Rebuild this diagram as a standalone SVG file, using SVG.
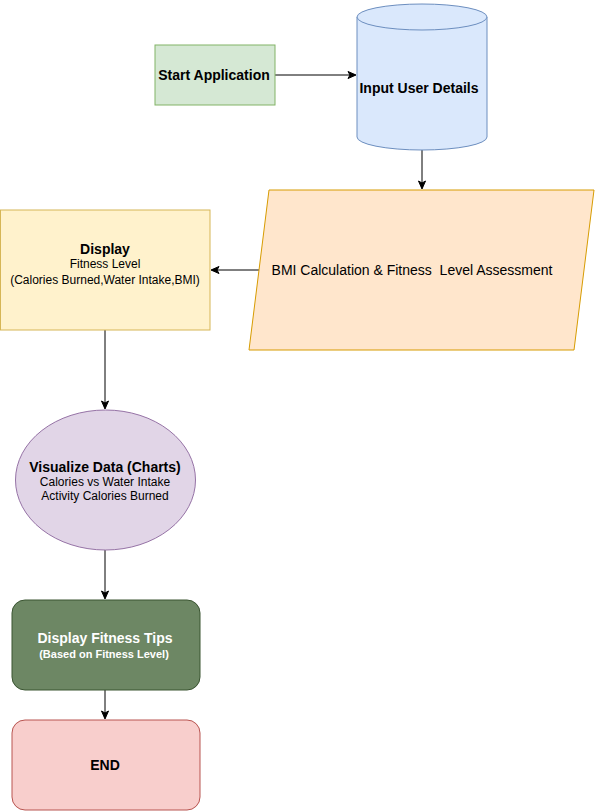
<svg xmlns="http://www.w3.org/2000/svg" width="595" height="811" viewBox="0 0 595 811">
<style>
text{font-family:Helvetica,"Liberation Sans",Arial,sans-serif;fill:#000;text-anchor:middle}
.b{font-weight:bold;font-size:14px}
.s{font-size:12px}
.c{stroke:#000;stroke-width:1;fill:none;marker-end:url(#ah)}
</style>
<defs>
<marker id="ah" markerWidth="10" markerHeight="10" refX="8" refY="5" orient="auto" markerUnits="userSpaceOnUse">
<path d="M1,1.5 L9,5 L1,8.5 L3,5 Z" fill="#000" stroke="#000" stroke-width="1"/>
</marker>
</defs>
<g id="connectors">
<path class="c" d="M275,75 L355,75"/>
<path class="c" d="M422,150 L422,188"/>
<path class="c" d="M259,270 L212,270"/>
<path class="c" d="M105,330 L105,408"/>
<path class="c" d="M105,550 L105,598"/>
<path class="c" d="M105,690 L105,718"/>
</g>
<g id="start">
<rect x="155" y="45" width="120" height="60" fill="#d5e8d4" stroke="#82b366"/>
<text class="b" x="214" y="80">Start Application</text>
</g>
<g id="input">
<path d="M357,17 L357,137 A65,13 0 0 0 487,137 L487,17" fill="#dae8fc" stroke="#6c8ebf"/>
<ellipse cx="422" cy="17" rx="65" ry="13" fill="#dae8fc" stroke="#6c8ebf"/>
<text class="b" x="419" y="93">Input User Details</text>
</g>
<g id="bmi">
<polygon points="269,190 594,190 574,350 249,350" fill="#ffe6cc" stroke="#d79b00"/>
<text x="412" y="275" style="font-size:14px;white-space:pre" xml:space="preserve">BMI Calculation &amp; Fitness  Level Assessment</text>
</g>
<g id="display">
<rect x="0.5" y="210" width="209.5" height="120" fill="#fff2cc" stroke="#d6b656"/>
<text class="b" x="105" y="254">Display</text>
<text class="s" x="105" y="268">Fitness Level</text>
<text class="s" x="105" y="284">(Calories Burned,Water Intake,BMI)</text>
</g>
<g id="visualize">
<ellipse cx="105.5" cy="480" rx="90" ry="70" fill="#e1d5e7" stroke="#9673a6"/>
<text class="b" x="105" y="472">Visualize Data (Charts)</text>
<text class="s" x="105" y="486">Calories vs Water Intake</text>
<text class="s" x="105" y="500">Activity Calories Burned</text>
</g>
<g id="tips">
<rect x="12" y="600" width="188" height="90" rx="13" fill="#6d8764" stroke="#3a5431"/>
<text class="b" x="105" y="643" style="fill:#fff">Display Fitness Tips</text>
<text x="104" y="658" style="fill:#fff;font-size:11px;font-weight:bold">(Based on Fitness Level)</text>
</g>
<g id="end">
<rect x="12" y="720" width="188" height="90" rx="13" fill="#f8cecc" stroke="#b85450"/>
<text class="b" x="105" y="770">END</text>
</g>
</svg>
